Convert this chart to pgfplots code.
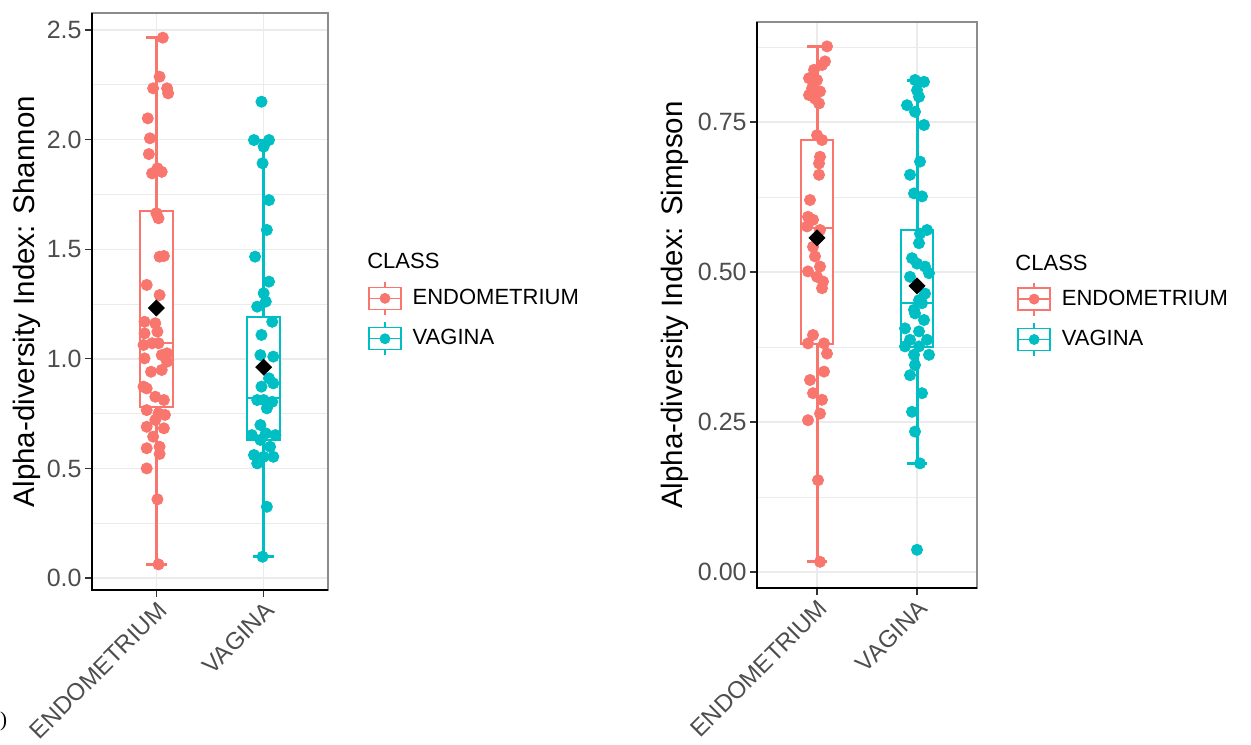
\documentclass[border=0pt]{standalone}
\usepackage{pgfplots}
\pgfplotsset{compat=1.18}
\usepgfplotslibrary{statistics}
\usepackage{fontspec}
\setmainfont{Liberation Sans}
\newfontfamily\seriffont{Liberation Serif}

\definecolor{endo}{HTML}{F8766D}
\definecolor{vag}{HTML}{00BFC4}
\definecolor{gridmaj}{HTML}{EBEBEB}
\definecolor{ticklab}{HTML}{4D4D4D}

% legend key: a small boxplot with a point in the middle
\newcommand{\boxkey}[1]{%
  \draw[#1, line width=0.7pt] (8pt,-8.25pt) -- (8pt,8.25pt);
  \draw[#1, line width=0.7pt, fill=white] (0pt,-5.5pt) rectangle (16pt,5.5pt);
  \draw[#1, line width=0.7pt] (0pt,0pt) -- (16pt,0pt);
  \fill[#1] (8pt,0pt) circle (2.5pt);
}

\pgfplotsset{
  diversity/.style={
    scale only axis,
    anchor=north west,
    clip=false,
    xmin=0.4, xmax=2.6,
    xtick={1,2}, xticklabels={ENDOMETRIUM,VAGINA},
    xtick pos=bottom, ytick pos=left,
    tick align=outside,
    major tick length=3.5pt,
    minor tick length=0pt,
    tick style={black!80, line width=0.6pt},
    grid=both,
    major grid style={gridmaj, line width=0.7pt},
    minor grid style={gridmaj, line width=0.4pt},
    axis line style={black!45, line width=0.6pt},
    ticklabel style={ticklab},
    yticklabel style={font=\fontsize{12.5}{14}\selectfont, inner sep=1.5pt},
    xticklabel style={rotate=45, anchor=north east, inner sep=1pt,
      font=\fontsize{12}{14}\selectfont},
    ylabel style={anchor=center, font=\fontsize{14.75}{17}\selectfont},
    legend style={draw=none, fill=none, anchor=north west,
      font=\fontsize{11}{13}\selectfont, row sep=3pt, column sep=3.5pt,
      inner sep=0pt},
    legend cell align=left,
    boxplot/draw direction=y,
  },
  boxstyle/.style={forget plot, draw=#1, fill=white, line width=1pt,
    boxplot/every whisker/.style={line width=1.5pt}},
  pts/.style={forget plot, only marks, mark=*, mark size=2.8pt, color=#1},
  meanpt/.style={forget plot, only marks, mark=square*, mark size=2.8pt,
    mark options={rotate=45, fill=black, draw=black}},
}

\begin{document}
\begin{tikzpicture}
\useasboundingbox (0,0) rectangle (625.5pt,-372pt);

% ---------------- Shannon ----------------
\begin{axis}[diversity,
  at={(46pt,-6.5pt)}, width=118pt, height=288.5pt,
  ymin=-0.0547, ymax=2.5776,
  ytick={0,0.5,1,1.5,2,2.5},
  yticklabels={0.0,0.5,1.0,1.5,2.0,2.5},
  minor ytick={0.25,0.75,1.25,1.75,2.25},
  ylabel={Alpha-diversity Index: Shannon},
  ylabel style={at={(axis description cs:-0.275,0.5)}},
  legend style={at={(axis description cs:1.169,0.536)}},
]
\addplot[boxstyle=endo, boxplot prepared={draw position=1,
  lower whisker=0.062, lower quartile=0.78, median=1.07,
  upper quartile=1.674, upper whisker=2.465,
  box extend=0.31, whisker extend=0.19}] coordinates {};
\addplot[boxstyle=vag, boxplot prepared={draw position=2,
  lower whisker=0.097, lower quartile=0.63, median=0.821,
  upper quartile=1.191, upper whisker=1.998,
  box extend=0.31, whisker extend=0.19}] coordinates {};

\addplot[pts=endo] table {
x y
1.06 2.465
1.03 2.287
0.97 2.234
1.10 2.234
1.11 2.211
0.92 2.097
0.94 2.006
0.93 1.934
1.01 1.869
1.05 1.853
0.96 1.846
1.00 1.664
1.02 1.641
1.03 1.466
1.07 1.469
0.91 1.337
1.03 1.291
0.89 1.169
0.99 1.162
0.89 1.116
1.01 1.124
0.96 1.071
0.88 1.063
1.02 1.071
1.10 1.025
1.05 1.017
0.89 1.002
1.10 0.987
0.95 0.941
1.05 0.949
0.91 0.865
0.88 0.873
0.99 0.827
1.07 0.812
0.91 0.766
1.02 0.751
1.08 0.744
0.99 0.721
0.91 0.690
1.07 0.683
0.97 0.645
0.91 0.592
1.03 0.599
1.03 0.566
0.91 0.500
1.01 0.359
1.02 0.062
};
\addplot[pts=vag] table {
x y
1.98 2.173
1.91 1.998
2.00 1.968
2.05 1.998
1.99 1.892
2.05 1.724
2.03 1.588
1.92 1.466
2.05 1.352
2.00 1.299
2.02 1.261
1.94 1.238
2.08 1.169
1.98 1.109
2.09 1.010
1.97 1.017
2.05 0.911
1.98 0.873
2.09 0.888
2.00 0.812
1.94 0.812
2.08 0.804
2.03 0.774
1.97 0.698
1.89 0.652
2.02 0.660
2.11 0.652
1.97 0.630
2.06 0.599
1.91 0.561
2.00 0.553
2.09 0.553
1.94 0.523
2.03 0.325
1.99 0.097
};
\addplot[meanpt] coordinates {(1,1.232) (2,0.962)};

\addlegendimage{legend image code/.code={\boxkey{endo}}}
\addlegendentry{ENDOMETRIUM}
\addlegendimage{legend image code/.code={\boxkey{vag}}}
\addlegendentry{VAGINA}

\draw[black, line width=1.1pt] (axis description cs:0,1) -- (axis description cs:0,0) -- (axis description cs:1,0);
\node[anchor=west, inner sep=0pt, font=\fontsize{11}{13}\selectfont]
  at (axis description cs:1.165,0.570) {CLASS};
\end{axis}

% ---------------- Simpson ----------------
\begin{axis}[diversity,
  at={(378.5pt,-11pt)}, width=110pt, height=283pt,
  ymin=-0.0267, ymax=0.9167,
  ytick={0,0.25,0.5,0.75},
  yticklabels={0.00,0.25,0.50,0.75},
  minor ytick={0.125,0.375,0.625,0.875},
  ylabel={Alpha-diversity Index: Simpson},
  ylabel style={at={(axis description cs:-0.373,0.5)}},
  legend style={at={(axis description cs:1.182,0.5415)}},
]
\addplot[boxstyle=endo, boxplot prepared={draw position=1,
  lower whisker=0.017, lower quartile=0.38, median=0.573,
  upper quartile=0.72, upper whisker=0.876,
  box extend=0.32, whisker extend=0.2}] coordinates {};
\addplot[boxstyle=vag, boxplot prepared={draw position=2,
  lower whisker=0.181, lower quartile=0.375, median=0.448,
  upper quartile=0.57, upper whisker=0.82,
  box extend=0.32, whisker extend=0.2}] coordinates {};

\addplot[pts=endo] table {
x y
1.10 0.876
1.08 0.851
1.05 0.845
0.97 0.837
0.92 0.823
1.00 0.820
0.95 0.806
1.03 0.801
0.92 0.795
0.98 0.789
1.02 0.781
1.00 0.728
1.05 0.720
1.03 0.692
1.02 0.681
1.02 0.662
0.93 0.620
0.91 0.592
0.96 0.587
0.90 0.576
1.03 0.570
0.96 0.542
0.98 0.526
1.03 0.509
0.91 0.501
1.00 0.492
1.06 0.484
1.05 0.473
0.96 0.395
1.07 0.381
0.91 0.381
1.10 0.364
1.07 0.334
0.93 0.320
0.96 0.298
1.05 0.287
1.03 0.264
0.91 0.253
1.01 0.153
1.03 0.017
};
\addplot[pts=vag] table {
x y
1.98 0.820
2.07 0.817
2.00 0.803
2.02 0.792
1.90 0.778
1.98 0.767
2.07 0.745
2.03 0.684
1.93 0.662
1.97 0.631
2.05 0.626
2.10 0.570
2.03 0.564
2.02 0.548
1.95 0.523
2.00 0.514
2.08 0.509
1.93 0.492
2.12 0.498
2.08 0.464
2.02 0.453
1.97 0.437
2.05 0.448
1.98 0.431
2.07 0.420
1.88 0.406
2.02 0.401
1.93 0.387
2.10 0.387
1.88 0.376
2.02 0.376
2.12 0.362
1.97 0.362
1.98 0.345
1.93 0.328
2.05 0.298
1.95 0.267
1.98 0.234
2.03 0.181
2.00 0.037
};
\addplot[meanpt] coordinates {(1,0.557) (2,0.477)};

\addlegendimage{legend image code/.code={\boxkey{endo}}}
\addlegendentry{ENDOMETRIUM}
\addlegendimage{legend image code/.code={\boxkey{vag}}}
\addlegendentry{VAGINA}

\draw[black, line width=1.1pt] (axis description cs:0,1) -- (axis description cs:0,0) -- (axis description cs:1,0);
\node[anchor=west, inner sep=0pt, font=\fontsize{11}{13}\selectfont]
  at (axis description cs:1.173,0.575) {CLASS};
\end{axis}

% panel tag, mostly outside the page on the left
\node[anchor=east, inner sep=0pt, font=\seriffont\fontsize{10.5}{12}\selectfont]
  at (3.8pt,-360.5pt) {a)};
\end{tikzpicture}
\end{document}
